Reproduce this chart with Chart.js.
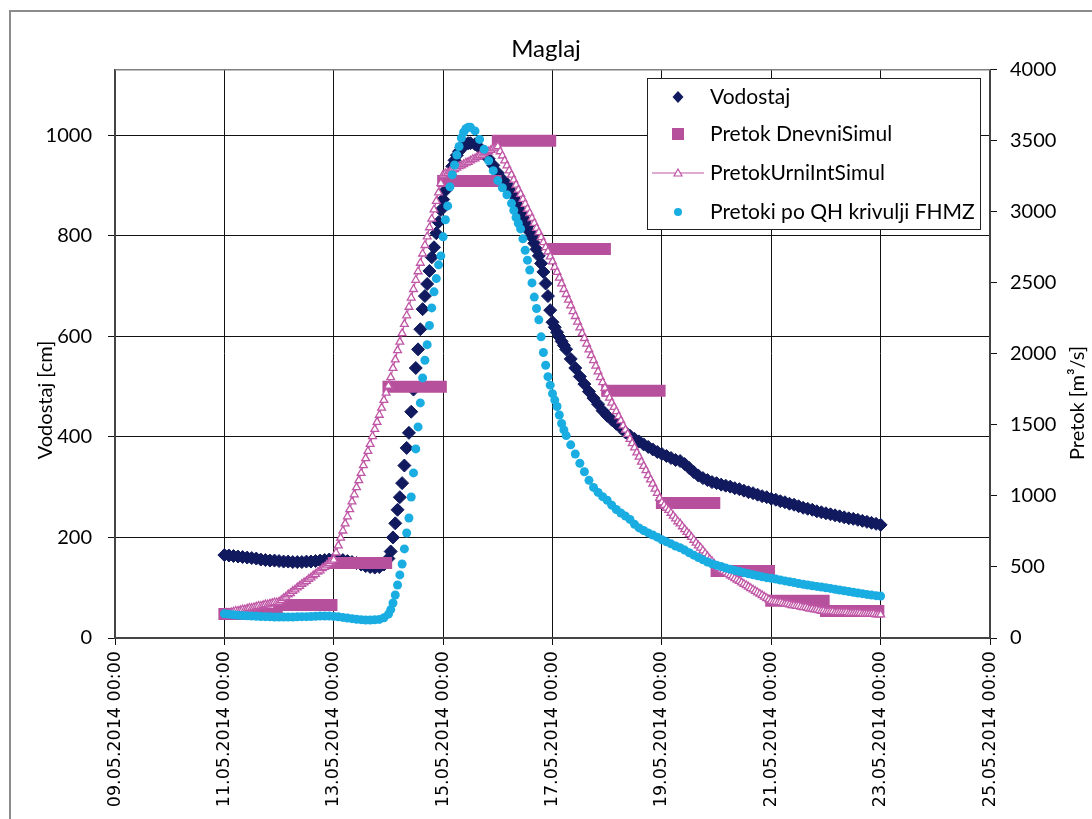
<!DOCTYPE html>
<html>
<head>
<meta charset="utf-8">
<script src="https://cdn.jsdelivr.net/npm/chart.js@4.4.1/dist/chart.umd.min.js"></script>
<style>
  html, body { margin: 0; padding: 0; background: #fff; overflow: hidden; }
  #wrap { width: 1092px; height: 819px; }
</style>
</head>
<body>
<div id="wrap"><canvas id="maglajChart" width="1092" height="819"></canvas></div>
<script>
// x axis: days since 09.05.2014 00:00, one label every 2 days
const xTickDays = [0, 2, 4, 6, 8, 10, 12, 14, 16];
const xTickLabels = ['09.05.2014 00:00', '11.05.2014 00:00', '13.05.2014 00:00', '15.05.2014 00:00',
  '17.05.2014 00:00', '19.05.2014 00:00', '21.05.2014 00:00', '23.05.2014 00:00', '25.05.2014 00:00'];
const leftTicks = [0, 200, 400, 600, 800, 1000];
const rightTicks = [0, 500, 1000, 1500, 2000, 2500, 3000, 3500, 4000];

// measured series: hours since 11.05.2014 00:00
const measHours = [
  0, 2, 4, 6, 8, 10, 12, 14, 16, 18, 20, 22, 24, 26, 28, 30, 32, 34, 36, 38, 40, 42, 44, 46, 48, 50,
  52, 54, 56, 58, 60, 62, 64, 66, 68, 70, 72,
  73, 74, 75, 76, 77, 78, 79, 80, 81, 82, 83, 84, 85, 86, 87, 88, 89, 90, 91, 92, 93, 94, 95, 96,
  97, 98, 99, 100, 101, 102, 103, 104, 105, 106, 107, 108,
  110, 112, 114, 116, 118, 120, 122, 124,
  126, 127, 128, 129, 130, 131, 132, 133, 134, 135, 136, 137, 138, 139, 140, 141, 142, 143, 144, 145,
  146, 147, 148, 149, 150,
  152, 154, 156, 158, 160, 162, 164, 166, 168,
  170, 172, 174, 176, 178, 180, 182, 184, 186, 188, 190, 192, 194, 196, 198, 200, 202, 204, 206, 208,
  210, 212, 214, 216, 218, 220, 222, 224, 226, 228, 230, 232, 234, 236, 238, 240, 242, 244, 246, 248,
  250, 252, 254, 256, 258, 260, 262, 264, 266, 268, 270, 272, 274, 276, 278, 280, 282, 284, 286, 288
];
// Vodostaj [cm]
const vodostaj = [
  165, 164, 163, 162, 161, 160, 159, 158, 156, 155, 154, 154, 153, 152, 152, 151, 151, 151, 152, 152, 153, 154, 155, 156, 157, 156,
  155, 153, 151, 149, 146, 143, 141, 140, 141, 146, 158,
  172, 200, 228, 255, 280, 308, 343, 378, 408, 450, 494, 537, 574, 614, 654, 680, 704, 730, 757, 777, 805, 827, 851, 872,
  890, 905, 922, 938, 950, 960, 968, 975, 979, 982, 984, 984,
  982, 975, 965, 953, 940, 925, 912, 903,
  888, 880, 870, 860, 850, 840, 830, 819, 808, 797, 785, 773, 760, 745, 728, 705, 680, 652, 628, 618,
  608, 599, 590, 582, 574,
  555, 537, 520, 505, 490, 477, 465, 452, 442,
  434, 426, 418, 409, 402, 396, 391, 385, 380, 375, 370, 366, 362, 358, 354, 352, 346, 338, 330, 323,
  318, 314, 310, 308, 305, 303, 301, 298, 296, 293, 290, 288, 285, 282, 280, 277, 275, 272, 270, 267,
  265, 262, 259, 257, 255, 252, 250, 248, 246, 244, 242, 240, 238, 237, 235, 233, 231, 229, 227, 225
];
// Pretoki po QH krivulji FHMZ [m3/s]
const pretokQH = [
  170, 167, 163, 160, 158, 156, 155, 153, 151, 150, 149, 148, 147, 147, 147, 148, 149, 150, 150, 151, 153, 155, 155, 154, 152, 149,
  145, 140, 136, 132, 129, 127, 127, 128, 131, 142, 168,
  200, 246, 303, 373, 444, 521, 627, 739, 845, 993, 1162, 1331, 1486, 1655, 1831, 1955, 2065, 2200, 2324, 2437, 2530, 2627, 2690, 2824,
  2944, 3042, 3176, 3261, 3330, 3400, 3460, 3520, 3560, 3585, 3595, 3595,
  3570, 3510, 3440, 3360, 3290, 3220, 3170, 3120,
  3060, 3010, 2960, 2920, 2880, 2810, 2730, 2660, 2590, 2500, 2400, 2320, 2240, 2120, 2010, 1920, 1840, 1780, 1720, 1675,
  1630, 1570, 1510, 1465, 1425,
  1360, 1295, 1230, 1170, 1110, 1060, 1025, 995, 970,
  935, 905, 880, 858, 835, 800, 775, 757, 740, 725, 710, 692, 677, 663, 648, 635, 619, 600, 583, 567,
  550, 535, 523, 512, 503, 493, 484, 476, 468, 460, 452, 445, 438, 431, 425, 420, 415, 408, 402, 396,
  390, 384, 378, 373, 368, 363, 359, 354, 349, 343, 338, 333, 327, 322, 317, 312, 307, 302, 298, 295
];

// PretokUrniIntSimul [m3/s], hourly from 11.05.2014 00:00 to 23.05.2014 00:00
const pretokUrni = [
  170, 175, 175, 180, 185, 190, 190, 195, 200, 200, 205, 210, 210, 215, 220, 225, 225, 230, 235, 235, 240, 245, 250, 250,
  255, 265, 280, 290, 305, 315, 330, 340, 355, 365, 380, 390, 400, 415, 425, 440, 450, 465, 475, 490, 500, 515, 525, 540,
  550, 600, 650, 705, 755, 805, 855, 905, 960, 1010, 1060, 1110, 1160, 1215, 1265, 1315, 1365, 1420, 1470, 1520, 1570, 1620, 1675, 1725,
  1775, 1835, 1900, 1960, 2025, 2085, 2145, 2210, 2270, 2330, 2395, 2455, 2520, 2580, 2640, 2705, 2765, 2825, 2890, 2950, 3015, 3075, 3135, 3200,
  3260, 3270, 3275, 3285, 3295, 3300, 3310, 3320, 3325, 3335, 3345, 3350, 3360, 3370, 3375, 3385, 3395, 3400, 3410, 3420, 3425, 3435, 3445, 3450,
  3460, 3425, 3395, 3360, 3325, 3290, 3260, 3225, 3190, 3155, 3125, 3090, 3055, 3020, 2990, 2955, 2920, 2885, 2855, 2820, 2785, 2750, 2720, 2685,
  2650, 2610, 2575, 2535, 2495, 2455, 2420, 2380, 2340, 2300, 2265, 2225, 2185, 2145, 2110, 2070, 2030, 1990, 1955, 1915, 1875, 1835, 1800, 1760,
  1720, 1690, 1655, 1625, 1595, 1560, 1530, 1495, 1465, 1435, 1400, 1370, 1340, 1305, 1275, 1240, 1210, 1180, 1145, 1115, 1085, 1050, 1020, 985,
  955, 935, 915, 900, 880, 860, 840, 820, 805, 785, 765, 745, 730, 710, 690, 670, 650, 635, 615, 595, 575, 555, 540, 520,
  500, 490, 480, 470, 460, 450, 440, 430, 420, 410, 400, 390, 380, 370, 360, 350, 340, 330, 320, 310, 300, 290, 280, 270,
  260, 255, 255, 250, 250, 245, 240, 240, 235, 230, 230, 225, 225, 220, 215, 215, 210, 205, 205, 200, 200, 195, 190, 190,
  185, 185, 185, 185, 180, 180, 180, 180, 180, 180, 175, 175, 175, 175, 175, 175, 170, 170, 170, 170, 170, 170, 165, 165,
  165
];

// Pretok DnevniSimul: one value per day (day of May 2014)
const dnevniDays = [11, 12, 13, 14, 15, 16, 17, 18, 19, 20, 21, 22];
const dnevniQ = [169, 232, 528, 1768, 3218, 3500, 2739, 1740, 950, 472, 262, 190];

const NAVY = '#111a5e';
const MAGENTA = '#b7509c';
const PINK = '#c056a6';
const CYAN = '#19ade2';
const LABEL_FONT = 'Lato';

const toDay = h => 2 + h / 24;

// each daily value is held for 24 hourly samples -> one thick segment per day
const dnevniData = [];
dnevniDays.forEach((d, i) => {
  dnevniData.push({ x: d - 9, y: dnevniQ[i] });
  dnevniData.push({ x: d - 9 + 23 / 24, y: dnevniQ[i] });
  dnevniData.push({ x: d - 9 + 23.5 / 24, y: null });
});

const extras = {
  id: 'extras',
  afterDraw(chart) {
    const { ctx, chartArea: a } = chart;
    ctx.save();
    // top edge of plot area
    ctx.strokeStyle = '#808080';
    ctx.lineWidth = 1.5;
    ctx.beginPath();
    ctx.moveTo(a.left, a.top);
    ctx.lineTo(a.right, a.top);
    ctx.stroke();

    // outer chart frame (cut by the picture on the right and bottom)
    ctx.strokeStyle = '#8c8c8c';
    ctx.lineWidth = 2;
    ctx.beginPath();
    ctx.moveTo(10, 819);
    ctx.lineTo(10, 11);
    ctx.lineTo(1092, 11);
    ctx.stroke();

    // axis titles
    ctx.fillStyle = '#000';
    ctx.font = '20px ' + LABEL_FONT;
    ctx.textAlign = 'center';
    ctx.textBaseline = 'middle';
    ctx.save();
    ctx.translate(46, 400);
    ctx.rotate(-Math.PI / 2);
    ctx.fillText('Vodostaj [cm]', 0, 0);
    ctx.restore();
    ctx.save();
    ctx.translate(1078, 403);
    ctx.rotate(-Math.PI / 2);
    ctx.fillText('Pretok [m³/s]', 0, 0);
    ctx.restore();

    // legend box
    const bx = 647, by = 78, bw = 333, bh = 151;
    ctx.fillStyle = '#fff';
    ctx.fillRect(bx, by, bw, bh);
    ctx.strokeStyle = '#222';
    ctx.lineWidth = 1;
    ctx.strokeRect(bx + 0.5, by + 0.5, bw, bh);

    const mx = 678, tx = 710;
    const rows = [97, 134, 173, 212];
    const names = ['Vodostaj', 'Pretok DnevniSimul', 'PretokUrniIntSimul', 'Pretoki po QH krivulji FHMZ'];

    // diamond
    ctx.fillStyle = NAVY;
    ctx.beginPath();
    ctx.moveTo(mx, rows[0] - 6);
    ctx.lineTo(mx + 5.5, rows[0]);
    ctx.lineTo(mx, rows[0] + 6);
    ctx.lineTo(mx - 5.5, rows[0]);
    ctx.closePath();
    ctx.fill();
    // square
    ctx.fillStyle = MAGENTA;
    ctx.fillRect(mx - 6, rows[1] - 6, 12, 12);
    // line with triangle
    ctx.strokeStyle = PINK;
    ctx.lineWidth = 1.2;
    ctx.beginPath();
    ctx.moveTo(652, rows[2]);
    ctx.lineTo(704, rows[2]);
    ctx.stroke();
    ctx.fillStyle = '#fff';
    ctx.beginPath();
    ctx.moveTo(mx, rows[2] - 4);
    ctx.lineTo(mx + 4, rows[2] + 3);
    ctx.lineTo(mx - 4, rows[2] + 3);
    ctx.closePath();
    ctx.fill();
    ctx.stroke();
    // dot
    ctx.fillStyle = CYAN;
    ctx.beginPath();
    ctx.arc(mx, rows[3], 4, 0, Math.PI * 2);
    ctx.fill();

    ctx.fillStyle = '#000';
    ctx.textAlign = 'left';
    ctx.font = '21px ' + LABEL_FONT;
    names.forEach((n, i) => ctx.fillText(n, tx, rows[i]));
    ctx.restore();
  }
};

const ctx = document.getElementById('maglajChart').getContext('2d');
const maglajChart = new Chart(ctx, {
  type: 'line',
  data: {
    datasets: [{
      label: 'Vodostaj',
      data: measHours.map((h, i) => ({ x: toDay(h), y: vodostaj[i] })),
      yAxisID: 'y',
      showLine: false,
      pointStyle: 'rectRot',
      pointRadius: 6.5,
      pointBackgroundColor: NAVY,
      pointBorderColor: NAVY,
      pointBorderWidth: 1,
      order: 4
    }, {
      label: 'Pretok DnevniSimul',
      data: dnevniData,
      yAxisID: 'y2',
      borderColor: MAGENTA,
      borderWidth: 12,
      borderCapStyle: 'square',
      pointRadius: 0,
      spanGaps: false,
      order: 3
    }, {
      label: 'PretokUrniIntSimul',
      data: pretokUrni.map((q, i) => ({ x: toDay(i), y: q })),
      yAxisID: 'y2',
      borderColor: PINK,
      borderWidth: 1.2,
      tension: 0,
      pointStyle: 'triangle',
      pointRadius: 4.5,
      pointBackgroundColor: '#fff',
      pointBorderColor: PINK,
      pointBorderWidth: 1.3,
      order: 2
    }, {
      label: 'Pretoki po QH krivulji FHMZ',
      data: measHours.map((h, i) => ({ x: toDay(h), y: pretokQH[i] })),
      yAxisID: 'y2',
      showLine: false,
      pointStyle: 'circle',
      pointRadius: 4.5,
      pointBackgroundColor: CYAN,
      pointBorderColor: CYAN,
      pointBorderWidth: 0,
      order: 1
    }]
  },
  options: {
    responsive: false,
    animation: false,
    events: [],
    layout: { padding: 0 },
    plugins: {
      legend: { display: false },
      tooltip: { enabled: false },
      title: {
        display: true,
        text: 'Maglaj',
        color: '#000',
        font: { family: LABEL_FONT, size: 24, weight: 'normal' },
        padding: { top: 35, bottom: 6 }
      }
    },
    scales: {
      x: {
        type: 'linear',
        min: 0,
        max: 16,
        afterBuildTicks: s => { s.ticks = xTickDays.map(v => ({ value: v })); },
        afterFit: s => { s.height = 181; },
        ticks: {
          callback: v => xTickLabels[xTickDays.indexOf(v)],
          autoSkip: false,
          maxRotation: 90,
          minRotation: 90,
          padding: 6,
          color: '#000',
          font: { family: 'DejaVu Sans', size: 17.5 }
        },
        grid: { color: '#111', lineWidth: 1, tickLength: 7 },
        border: { color: '#444', width: 2 }
      },
      y: {
        position: 'left',
        min: 0,
        max: 1130,
        afterBuildTicks: s => { s.ticks = leftTicks.map(v => ({ value: v })); },
        afterFit: s => { s.width = 115; },
        ticks: { callback: v => String(v), padding: 16, color: '#000', font: { family: LABEL_FONT, size: 20 } },
        grid: { color: '#111', lineWidth: 1, tickLength: 7 },
        border: { color: '#444', width: 2 }
      },
      y2: {
        position: 'right',
        min: 0,
        max: 4000,
        afterBuildTicks: s => { s.ticks = rightTicks.map(v => ({ value: v })); },
        afterFit: s => { s.width = 102; },
        ticks: { callback: v => String(v), padding: 13, color: '#000', font: { family: LABEL_FONT, size: 20 } },
        grid: { drawOnChartArea: false, color: '#111', lineWidth: 1, tickLength: 7 },
        border: { color: '#444', width: 2 }
      }
    }
  },
  plugins: [extras]
});
</script>
</body>
</html>
